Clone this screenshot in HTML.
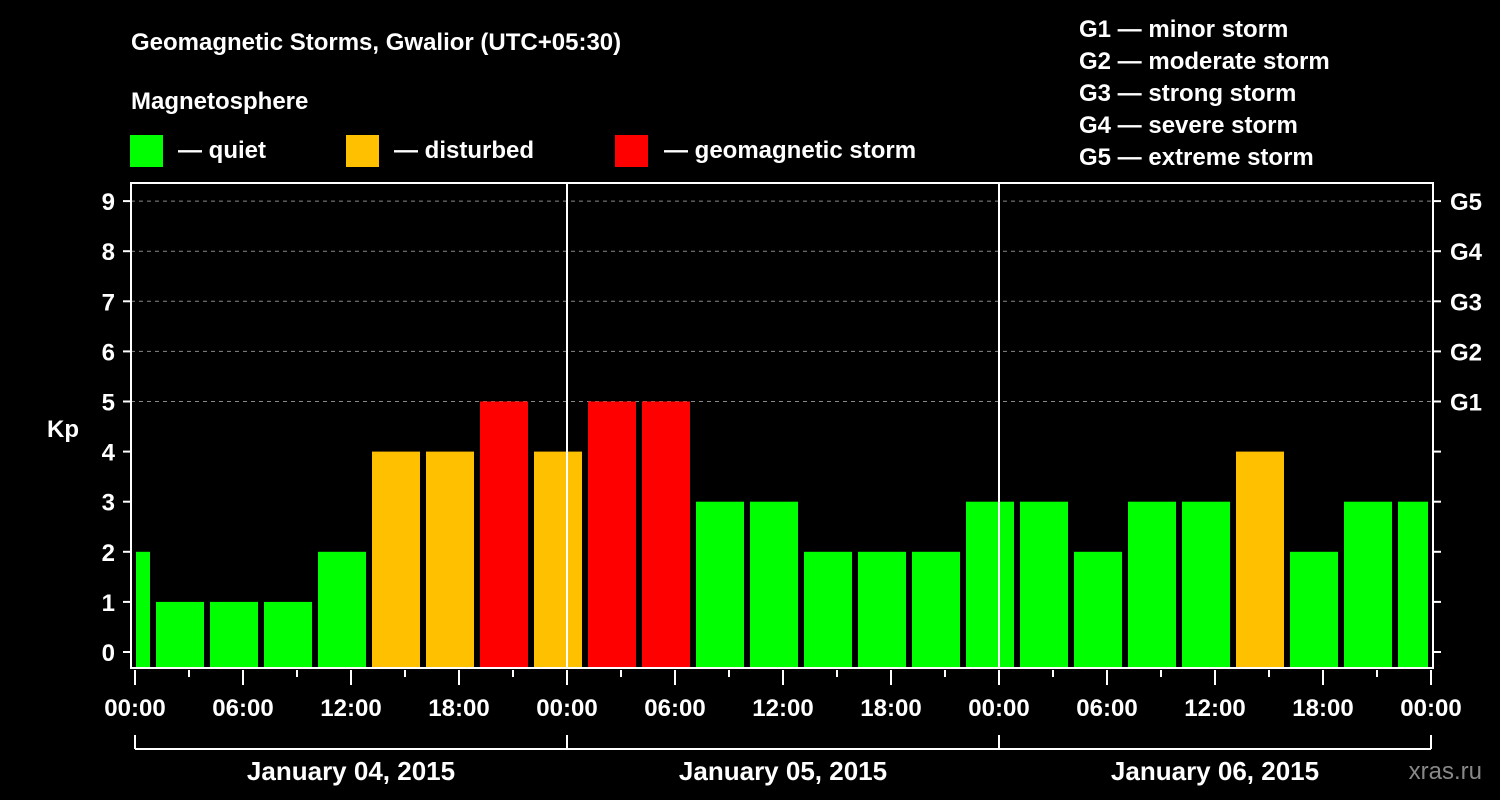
<!DOCTYPE html>
<html><head><meta charset="utf-8"><style>
body{margin:0;background:#000;}
svg{display:block;font-family:"Liberation Sans",Arial,sans-serif;font-weight:bold;}
</style></head><body>
<svg id="chart" width="1500" height="800" viewBox="0 0 1500 800" xmlns="http://www.w3.org/2000/svg">
<rect width="1500" height="800" fill="#000"/>
<text x="131" y="50" fill="#fff" font-size="24">Geomagnetic Storms, Gwalior (UTC+05:30)</text>
<text x="131" y="109" fill="#fff" font-size="24">Magnetosphere</text>
<g><rect x="130" y="135" width="33" height="32" fill="#00ff00"/><text x="178" y="158" fill="#fff" font-size="24">— quiet</text></g>
<g><rect x="346" y="135" width="33" height="32" fill="#ffc000"/><text x="394" y="158" fill="#fff" font-size="24">— disturbed</text></g>
<g><rect x="615" y="135" width="33" height="32" fill="#ff0000"/><text x="664" y="158" fill="#fff" font-size="24">— geomagnetic storm</text></g>
<g fill="#fff" font-size="24">
<text x="1079" y="37">G1 — minor storm</text>
<text x="1079" y="69">G2 — moderate storm</text>
<text x="1079" y="101">G3 — strong storm</text>
<text x="1079" y="133">G4 — severe storm</text>
<text x="1079" y="165">G5 — extreme storm</text>
</g>
<text x="63" y="437" fill="#fff" font-size="24" text-anchor="middle">Kp</text>
<g id="grid"></g><g id="bars"></g><g id="axes"></g>
<text x="1482" y="779" fill="#888" font-size="24" font-weight="normal" text-anchor="end">xras.ru</text>
</svg>
<script>
const kpValues=[2,1,1,1,2,4,4,5,4,5,5,3,3,2,2,2,3,3,2,3,3,4,2,3,3];
const yTicks=[0,1,2,3,4,5,6,7,8,9];
const gLabels=["G1","G2","G3","G4","G5"];
const gLevels=[5,6,7,8,9];
const hourLabels=["00:00","06:00","12:00","18:00"];
const dayLabels=["January 04, 2015","January 05, 2015","January 06, 2015"];
const NS="http://www.w3.org/2000/svg";
const X0=135,PXH=18,Y0=652,PXK=50.1,TOP=183,BOT=668,L=131,R=1433;
const xs=h=>X0+h*PXH, ys=k=>Y0-k*PXK;
function mk(t,a,p){const e=document.createElementNS(NS,t);for(const k in a)e.setAttribute(k,a[k]);p.appendChild(e);return e;}
const grid=document.getElementById('grid'),bars=document.getElementById('bars'),axes=document.getElementById('axes');
gLevels.forEach((g,i)=>{
 const l=mk('line',{x1:L,x2:R,y1:ys(g),y2:ys(g),stroke:'#888','stroke-dasharray':'4,4','stroke-width':1},grid);
 
 
 const t=mk('text',{x:1450,y:ys(g)+9,fill:'#fff','font-size':24},axes);t.textContent=gLabels[i];
 
 
});
const colorFor=v=>v>=5?'#ff0000':v>=4?'#ffc000':'#00ff00';
kpValues.forEach((v,i)=>{
 let x1=xs(-2+i*3)+3,x2=x1+48;
 x1=Math.max(x1,L+5);x2=Math.min(x2,R-5);
 const r=mk('rect',{x:x1,y:ys(v),width:x2-x1,height:BOT-ys(v),fill:colorFor(v)},bars);
 
 
});
mk('rect',{x:L,y:TOP,width:R-L,height:BOT-TOP,fill:'none',stroke:'#fff','stroke-width':2},axes);
[1,2].forEach(d=>{mk('line',{x1:xs(d*24),x2:xs(d*24),y1:TOP,y2:BOT,stroke:'#fff','stroke-width':2},axes);});
yTicks.forEach(k=>{
 mk('line',{x1:L-8,x2:L,y1:ys(k),y2:ys(k),stroke:'#fff','stroke-width':2},axes);
 mk('line',{x1:R,x2:R+8,y1:ys(k),y2:ys(k),stroke:'#fff','stroke-width':2},axes);
 const t=mk('text',{x:115,y:ys(k)+9,fill:'#fff','font-size':24,'text-anchor':'end'},axes);t.textContent=k;
 
 
});
for(let h=0;h<=72;h+=3){
 const major=h%6===0;
 mk('line',{x1:xs(h),x2:xs(h),y1:BOT+2,y2:BOT+(major?17:9),stroke:'#fff','stroke-width':2},axes);
 if(major){const t=mk('text',{x:xs(h),y:716,fill:'#fff','font-size':24,'text-anchor':'middle'},axes);t.textContent=hourLabels[(h/6)%4];
 
 }
}
mk('line',{x1:xs(0),x2:xs(72),y1:749,y2:749,stroke:'#fff','stroke-width':2},axes);
for(let d=0;d<=3;d++)mk('line',{x1:xs(d*24),x2:xs(d*24),y1:735,y2:749,stroke:'#fff','stroke-width':2},axes);
dayLabels.forEach((s,d)=>{
 const t=mk('text',{x:xs(d*24+12),y:780,fill:'#fff','font-size':26,'text-anchor':'middle'},axes);t.textContent=s;
 
 
});
</script>
</body></html>
